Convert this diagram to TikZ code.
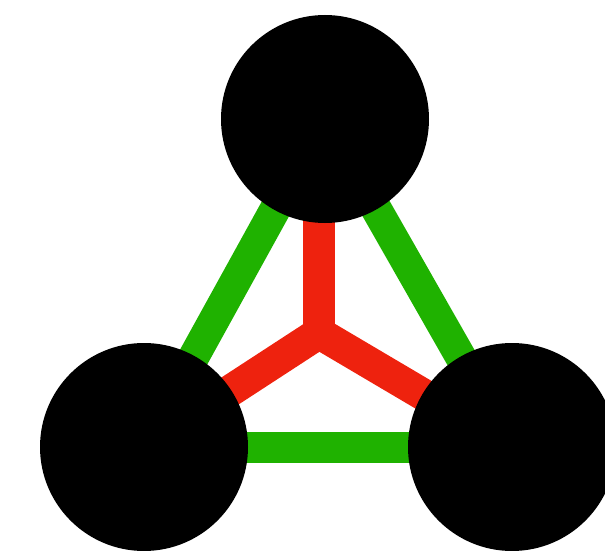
\documentclass[tikz,border=0pt]{standalone}
\usetikzlibrary{backgrounds}
\definecolor{edgegreen}{RGB}{31,178,0}
\definecolor{edgered}{RGB}{238,34,14}
\begin{document}
\begin{tikzpicture}[x=1pt,y=-1pt,
  ball/.style={circle,fill=black,draw=none,inner sep=0pt,minimum size=208pt},
  greenedge/.style={draw=edgegreen,line width=31pt},
  rededge/.style={draw=edgered,line width=32pt}]
\useasboundingbox (0,0) rectangle (605,551);
\node[ball] (top) at (325,119) {};
\node[ball] (left) at (144,447) {};
\node[ball] (right) at (512,447) {};
\coordinate (hub) at (319,333);
\coordinate (topfoot) at (319,119);
\begin{scope}[on background layer]
\draw[greenedge] (top.center) -- (left.center);
\draw[greenedge] (top.center) -- (right.center);
\draw[greenedge] (left.center) -- (right.center);
\draw[rededge] (hub) -- (topfoot);
\draw[rededge] (hub) -- (left.center);
\draw[rededge] (hub) -- (right.center);
\end{scope}
\end{tikzpicture}
\end{document}
